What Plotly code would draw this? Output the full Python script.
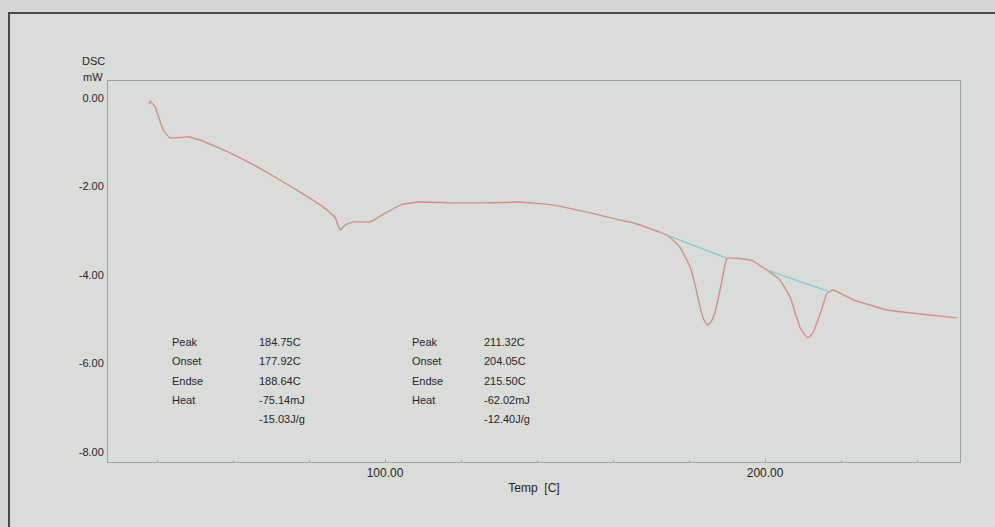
import plotly.graph_objects as go

# DSC trace: temperature (C) vs heat flow (mW)
temp_c = [37.9, 38.2, 39.5, 41.6, 43.4, 48.2, 51.3, 59.2, 67.9, 76.8, 83.7, 86.8,
          88.2, 89.5, 91.6, 96.1, 100.5, 104.7, 109.2, 117.9, 126.8, 135.5, 144.2,
          153.2, 161.8, 165.3, 174.2, 177.6, 180.3, 181.6, 182.9, 183.7, 184.75,
          185.8, 186.8, 187.6, 188.7, 190.0, 196.1, 200.5, 203.9, 206.6, 207.9,
          209.2, 210.3, 211.32, 212.6, 213.9, 215.0, 216.3, 217.9, 223.2, 232.1,
          240.8, 250.5]
dsc_mw = [-0.14, -0.07, -0.20, -0.72, -0.90, -0.88, -0.95, -1.24, -1.63, -2.08, -2.46, -2.69,
          -2.98, -2.87, -2.80, -2.80, -2.58, -2.40, -2.35, -2.37, -2.37, -2.35, -2.42,
          -2.58, -2.76, -2.82, -3.10, -3.37, -3.82, -4.23, -4.72, -4.97, -5.13,
          -5.06, -4.86, -4.56, -4.11, -3.62, -3.66, -3.89, -4.11, -4.50, -4.84,
          -5.18, -5.33, -5.42, -5.31, -5.02, -4.75, -4.41, -4.34, -4.56, -4.79,
          -4.88, -4.97]

# integration baselines under the two endotherms
base1_t = [174.2, 190.0]
base1_mw = [-3.10, -3.62]
base2_t = [200.5, 217.1]
base2_mw = [-3.89, -4.38]

# peak analysis results
row_names = ["Peak", "Onset", "Endse", "Heat"]
peak1_temps = [184.75, 177.92, 188.64]
peak1_heat_mj = -75.14
peak1_heat_jg = -15.03
peak2_temps = [211.32, 204.05, 215.50]
peak2_heat_mj = -62.02
peak2_heat_jg = -12.40

x_ticks = [100, 200]
y_ticks = [0, -2, -4, -6, -8]

W, H = 995, 527
L, R, T, B = 108, 35, 81, 65
PW, PH = W - L - R, H - T - B


def px(x):
    return (x - L) / PW


def py(y):
    return (H - B - y) / PH


TEXT = "#262626"
FONT = "Liberation Sans"

fig = go.Figure()
fig.add_trace(go.Scatter(x=temp_c, y=dsc_mw, mode="lines",
                         line=dict(color="#d38e84", width=1.4, shape="spline", smoothing=0.3),
                         hoverinfo="x+y", showlegend=False))
for bt, bm in ((base1_t, base1_mw), (base2_t, base2_mw)):
    fig.add_trace(go.Scatter(x=bt, y=bm, mode="lines",
                             line=dict(color="#84ccd2", width=1.3),
                             showlegend=False))

annotations = []


def add_text(x, y, s):
    annotations.append(dict(x=px(x), y=py(y), xref="paper", yref="paper", text=s,
                            showarrow=False, xanchor="left", yanchor="middle",
                            font=dict(family=FONT, size=11, color=TEXT)))


rows_y = [342, 361, 381, 400, 419]
for (lx, vx, temps, hmj, hjg) in ((170, 257, peak1_temps, peak1_heat_mj, peak1_heat_jg),
                                  (410, 482, peak2_temps, peak2_heat_mj, peak2_heat_jg)):
    for name, yy in zip(row_names, rows_y):
        add_text(lx, yy, name)
    vals = [f"{t:.2f}C" for t in temps] + [f"{hmj:.2f}mJ", f"{hjg:.2f}J/g"]
    for v, yy in zip(vals, rows_y):
        add_text(vx, yy, v)

add_text(80, 61, "DSC")
add_text(81, 77, "mW")

fig.update_layout(
    width=W, height=H,
    margin=dict(l=L, r=R, t=T, b=B),
    paper_bgcolor="#d3d6d3",
    plot_bgcolor="#dee1de",
    font=dict(family=FONT, color=TEXT, size=11),
    annotations=annotations,
    shapes=[dict(type="rect", xref="paper", yref="paper",
                 x0=px(9), x1=px(1010), y0=py(560), y1=py(13),
                 line=dict(color="#4a4a4a", width=2), fillcolor="#dadcda",
                 layer="below")],
    xaxis=dict(range=[27.1, 251.3], tickvals=x_ticks,
               ticktext=[f"{v:.2f}" for v in x_ticks],
               showgrid=False, zeroline=False, showline=True, linecolor="#9da3a3",
               linewidth=1, mirror=True, ticks="inside", ticklen=3, tickcolor="#9da3a3",
               minor=dict(dtick=20, tick0=0, ticks="inside", ticklen=2, tickcolor="#a5abab"),
               tickfont=dict(size=12, color=TEXT),
               title=dict(text="Temp  [C]", font=dict(size=12, color=TEXT), standoff=4)),
    yaxis=dict(range=[-8.226, 0.384], tickvals=y_ticks,
               ticktext=[f"{v:.2f}" for v in y_ticks],
               showgrid=False, zeroline=False, showline=True, linecolor="#9da3a3",
               linewidth=1, mirror=True, ticks="", ticklabelstandoff=1,
               tickfont=dict(size=11, color=TEXT)),
)

fig.write_html("out.html")
